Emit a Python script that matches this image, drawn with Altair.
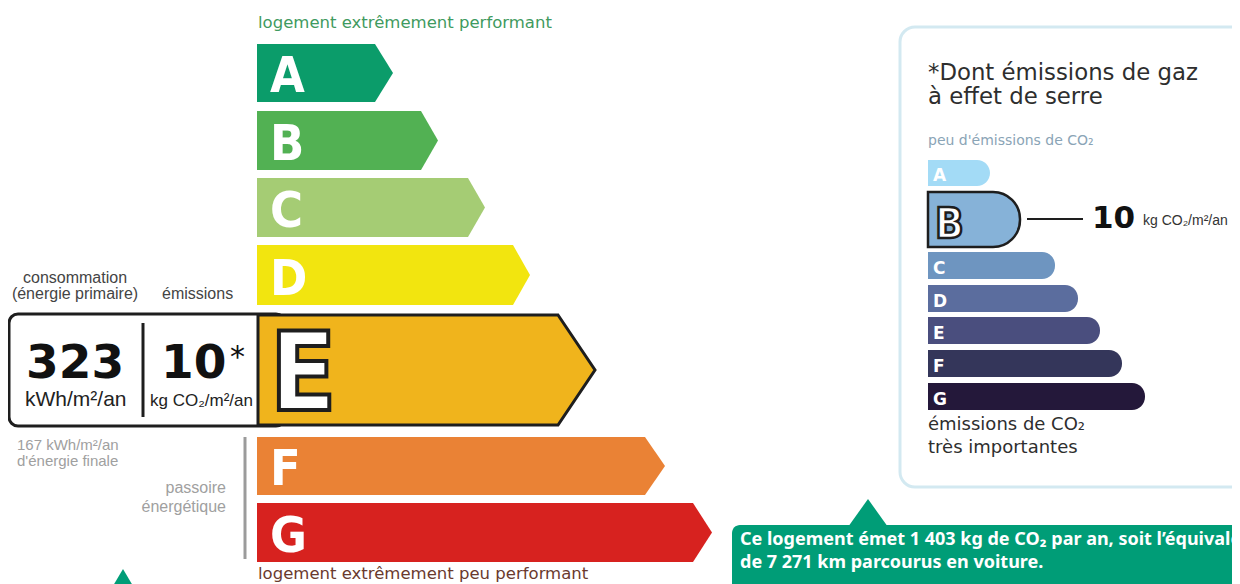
import altair as alt
import pandas as pd

# ---------------- data ----------------
classes = ["A", "B", "C", "D", "E", "F", "G"]
cls_colors = ["#0b9c6a", "#52b153", "#a5cc74", "#f2e50f", "#f0b41c", "#ea8235", "#d7221f"]
bar_top = [44, 111, 178, 245, 315, 437, 503]
bar_bottom = [102, 170, 237, 305, 425, 495, 562]
bar_body_end = [375, 421, 468, 513, 558, 645, 693]
bar_tip = [393, 438, 485, 530, 595, 665, 712]
bar_left = 257
current_class = "E"

ges_classes = ["A", "B", "C", "D", "E", "F", "G"]
ges_colors = ["#a3dbf6", "#86b2d8", "#6e95c0", "#5b6d9e", "#4a4e7e", "#34365a", "#24183a"]
ges_top = [160, 192, 252, 285, 317, 350, 383]
ges_bottom = [186, 247, 279, 312, 344, 377, 410]
ges_end = [990, 1020, 1055, 1078, 1100, 1122, 1145]
ges_left = 928
ges_current = "B"

conso_value = "323"
ges_value = "10"

# ---------------- scales (page pixel space) ----------------
xs = alt.Scale(domain=[8, 1232], nice=False, zero=False)
ys = alt.Scale(domain=[8, 584], nice=False, zero=False, reverse=True)


def X(f):
    return alt.X(f"{f}:Q", scale=xs, axis=None, stack=None)


def X2(f):
    return alt.X2(f"{f}:Q")


def Y(f):
    return alt.Y(f"{f}:Q", scale=ys, axis=None, stack=None)


def Y2(f):
    return alt.Y2(f"{f}:Q")


def text_layer(rows, **kw):
    df = pd.DataFrame(rows, columns=["x", "y", "t"])
    base = dict(align="left", baseline="alphabetic")
    base.update(kw)
    return alt.Chart(df).mark_text(**base).encode(x=X("x"), y=Y("y"), text="t:N")


layers = []

# right panel frame
panel = pd.DataFrame([{"x": 900, "x2": 1290, "y": 27, "y2": 487}])
layers.append(alt.Chart(panel).mark_rect(cornerRadius=15, fill="white", stroke="#d3e9f1", strokeWidth=3)
              .encode(x=X("x"), x2=X2("x2"), y=Y("y"), y2=Y2("y2")))

# left value box
box = pd.DataFrame([{"x": 9, "x2": 285, "y": 314, "y2": 426}])
layers.append(alt.Chart(box).mark_rect(cornerRadius=9, fill="white", stroke="#1e1e1e", strokeWidth=3)
              .encode(x=X("x"), x2=X2("x2"), y=Y("y"), y2=Y2("y2")))
div = pd.DataFrame([{"x": 143, "y": 323, "y2": 417}])
layers.append(alt.Chart(div).mark_rule(color="#1e1e1e", strokeWidth=3)
              .encode(x=X("x"), y=Y("y"), y2=Y2("y2")))

# main arrows
rows = []
for c, col, t, b, e, tip in zip(classes, cls_colors, bar_top, bar_bottom, bar_body_end, bar_tip):
    left = bar_left + (1 if c == current_class else 0)
    rows += [
        {"cls": c, "col": col, "y": t, "x": e, "x0": left},
        {"cls": c, "col": col, "y": (t + b) / 2, "x": tip, "x0": left},
        {"cls": c, "col": col, "y": b, "x": e, "x0": left},
    ]
arrows = pd.DataFrame(rows)
layers.append(alt.Chart(arrows[arrows.cls != current_class]).mark_area(orient="horizontal")
              .encode(y=Y("y"), x=X("x"), x2=X2("x0"),
                      color=alt.Color("col:N", scale=None), detail="cls:N"))
layers.append(alt.Chart(arrows[arrows.cls == current_class]).mark_area(
    orient="horizontal", stroke="#1e1e1e", strokeWidth=3, strokeJoin="miter")
              .encode(y=Y("y"), x=X("x"), x2=X2("x0"),
                      color=alt.Color("col:N", scale=None), detail="cls:N"))

# arrow letters
let_rows = [(270, b - 10, c) for c, b in zip(classes, bar_bottom) if c != current_class]
layers.append(text_layer(let_rows, font="DejaVu Sans Condensed", fontWeight="bold", fontSize=50, color="white"))
layers.append(text_layer([(270, 410, current_class)], font="DejaVu Sans Condensed", fontWeight="bold",
                         fontSize=108, color="white", stroke="#1e1e1e", strokeWidth=4))

# gray rule for passoire
gr = pd.DataFrame([{"x": 245, "y": 437, "y2": 559}])
layers.append(alt.Chart(gr).mark_rule(color="#9b9b9b", strokeWidth=3).encode(x=X("x"), y=Y("y"), y2=Y2("y2")))

# left texts
layers.append(text_layer([(75, 283, "consommation"), (75, 299, "(énergie primaire)")],
                         font="Liberation Sans", fontSize=16, color="#444", align="center"))
layers.append(text_layer([(162, 299, "émissions")], font="Liberation Sans", fontSize=16, color="#444"))
layers.append(text_layer([(26, 378, conso_value), (161, 378, ges_value)],
                         font="DejaVu Sans", fontWeight="bold", fontSize=47, color="#111"))
layers.append(text_layer([(230, 367, "*")], font="DejaVu Sans", fontSize=30, color="#111"))
layers.append(text_layer([(25, 406, "kWh/m²/an")], font="Liberation Sans", fontSize=21, color="#222"))
layers.append(text_layer([(150, 406, "kg CO₂/m²/an")], font="Liberation Sans", fontSize=17, color="#222"))
layers.append(text_layer([(17, 450, "167 kWh/m²/an"), (17, 466, "d'énergie finale")],
                         font="Liberation Sans", fontSize=15, color="#a0a0a0"))
layers.append(text_layer([(226, 493, "passoire"), (226, 512, "énergétique")],
                         font="Liberation Sans", fontSize=16, color="#a0a0a0", align="right"))
layers.append(text_layer([(258, 28, "logement extrêmement performant")],
                         font="DejaVu Sans", fontSize=16.5, color="#3f9a60"))
layers.append(text_layer([(258, 579, "logement extrêmement peu performant")],
                         font="DejaVu Sans", fontSize=16.5, color="#6a3a2e"))

# right panel bars
ges_df = pd.DataFrame({"cls": ges_classes, "col": ges_colors, "x": ges_left, "x2": ges_end,
                       "y": ges_top, "y2": ges_bottom})
layers.append(alt.Chart(ges_df[ges_df.cls != ges_current]).mark_rect(cornerRadiusTopRight=13, cornerRadiusBottomRight=13)
              .encode(x=X("x"), x2=X2("x2"), y=Y("y"), y2=Y2("y2"),
                      color=alt.Color("col:N", scale=None)))
layers.append(alt.Chart(ges_df[ges_df.cls == ges_current]).mark_rect(
    cornerRadiusTopRight=27, cornerRadiusBottomRight=27, stroke="#1e1e1e", strokeWidth=2.5)
              .encode(x=X("x"), x2=X2("x2"), y=Y("y"), y2=Y2("y2"),
                      color=alt.Color("col:N", scale=None)))
g_let = [(933, b - 5, c) for c, b in zip(ges_classes, ges_bottom) if c != ges_current]
layers.append(text_layer(g_let, font="DejaVu Sans", fontWeight="bold", fontSize=17, color="white"))
layers.append(text_layer([(935, 238, ges_current)], font="DejaVu Sans Condensed", fontWeight="bold",
                         fontSize=42, color="white", stroke="#1e1e1e", strokeWidth=2.5))
ln = pd.DataFrame([{"x": 1027, "x2": 1083, "y": 219}])
layers.append(alt.Chart(ln).mark_rule(color="#1e1e1e", strokeWidth=2).encode(x=X("x"), x2=X2("x2"), y=Y("y")))
layers.append(text_layer([(1092, 228, ges_value)], font="DejaVu Sans", fontWeight="bold", fontSize=31, color="#111"))
layers.append(text_layer([(1143, 225, "kg CO₂/m²/an")], font="Liberation Sans", fontSize=14, color="#333"))
layers.append(text_layer([(928, 80, "*Dont émissions de gaz"), (928, 104, "à effet de serre")],
                         font="DejaVu Sans", fontSize=22.8, color="#2e2e2e"))
layers.append(text_layer([(928, 145, "peu d'émissions de CO₂")],
                         font="DejaVu Sans", fontSize=14, color="#8aa4b6"))
layers.append(text_layer([(928, 430, "émissions de CO₂"), (928, 453, "très importantes")],
                         font="DejaVu Sans", fontSize=18, color="#2e2e2e"))

# green info box with pointer
gb = pd.DataFrame([{"x": 732, "x2": 1290, "y": 525, "y2": 620}])
layers.append(alt.Chart(gb).mark_rect(cornerRadius=8, fill="#009d77")
              .encode(x=X("x"), x2=X2("x2"), y=Y("y"), y2=Y2("y2")))
tri = pd.DataFrame({"x": [848, 868, 888], "y": [527, 499, 527], "y0": [527, 527, 527]})
layers.append(alt.Chart(tri).mark_area(color="#009d77").encode(x=X("x"), y=Y("y"), y2=Y2("y0")))
tri2 = pd.DataFrame({"x": [110, 123, 136], "y": [591, 569, 591], "y0": [591, 591, 591]})
layers.append(alt.Chart(tri2).mark_area(color="#009d77").encode(x=X("x"), y=Y("y"), y2=Y2("y0")))
layers.append(text_layer([(740, 545, "Ce logement émet 1 403 kg de CO₂ par an, soit l’équivalent"),
                          (740, 568, "de 7 271 km parcourus en voiture.")],
                         font="Noto Sans", fontWeight="bold", fontSize=18, color="white"))

chart = alt.layer(*layers).properties(
    width=1224, height=576, padding=0,
    autosize=alt.AutoSizeParams(type="none"),
).configure_view(stroke=None)

chart.save("out.html", embed_options={"renderer": "svg", "actions": False})
